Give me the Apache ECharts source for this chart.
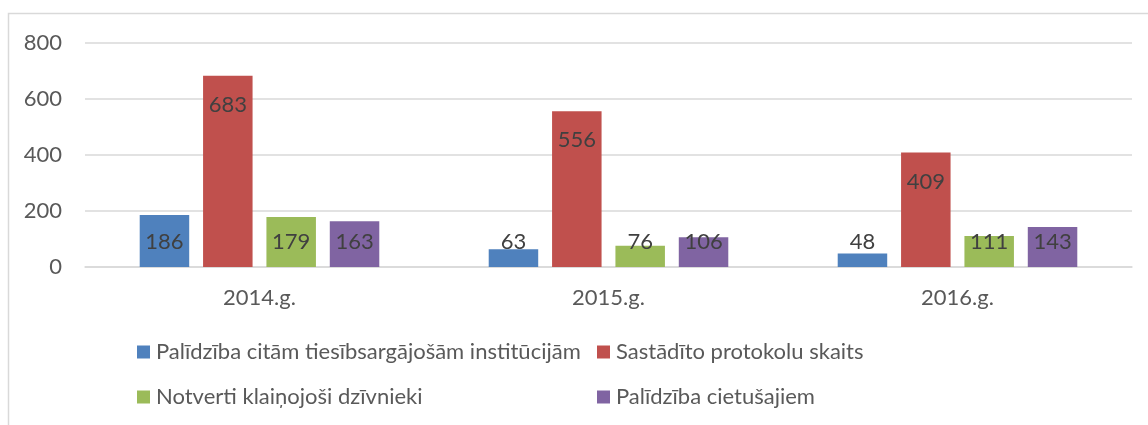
<!DOCTYPE html>
<html>
<head>
<meta charset="utf-8">
<script src="https://cdn.jsdelivr.net/npm/echarts@6/dist/echarts.min.js"></script>
<style>
html,body{margin:0;padding:0;background:#fff;}
#chart{width:1148px;height:425px;}
</style>
</head>
<body>
<div id="chart"></div>
<script>
const categories = ['2014.g.', '2015.g.', '2016.g.'];
const seriesNames = [
  'Palīdzība citām tiesībsargājošām institūcijām',
  'Sastādīto protokolu skaits',
  'Notverti klaiņojoši dzīvnieki',
  'Palīdzība cietušajiem'
];
const helpInstitutions = [186, 63, 48];
const protocols = [683, 556, 409];
const strayAnimals = [179, 76, 111];
const helpVictims = [163, 106, 143];
const yTicks = [0, 200, 400, 600, 800];

const colors = ['#4f81bd', '#c0504d', '#9bbb59', '#8064a2'];
const FONT = 'Lato';
const FS = 22;

function makeData(arr) {
  return arr.map(v => {
    const tall = v >= 188;
    return {
      value: v,
      label: tall
        ? { position: 'insideTop', distance: 18 }
        : { position: 'insideBottom', distance: 14 }
    };
  });
}

const allSeries = [helpInstitutions, protocols, strayAnimals, helpVictims].map((arr, i) => ({
  name: seriesNames[i],
  type: 'bar',
  barWidth: 49.5,
  barGap: '28%',
  itemStyle: { color: colors[i] },
  label: {
    show: true,
    color: '#404040',
    fontFamily: FONT,
    fontSize: FS
  },
  data: makeData(arr)
}));

const chart = echarts.init(document.getElementById('chart'), null, { renderer: 'canvas' });
chart.setOption({
  animation: false,
  backgroundColor: '#fff',
  textStyle: { fontFamily: FONT },
  graphic: [{
    type: 'rect',
    shape: { x: 8.5, y: 13.5, width: 1300, height: 600 },
    style: { fill: 'none', stroke: '#d9d9d9', lineWidth: 1.5 },
    silent: true
  }],
  grid: { left: 85, right: 16, top: 43, height: 224, containLabel: false },
  xAxis: {
    type: 'category',
    data: categories,
    axisLine: { show: true, lineStyle: { color: '#d9d9d9', width: 1.5 } },
    axisTick: { show: false },
    axisLabel: { color: '#595959', fontFamily: FONT, fontSize: FS, margin: 20 }
  },
  yAxis: {
    type: 'value',
    min: yTicks[0],
    max: yTicks[yTicks.length - 1],
    interval: yTicks[1] - yTicks[0],
    axisLine: { show: false },
    axisTick: { show: false },
    splitLine: { lineStyle: { color: '#d9d9d9', width: 1.5 } },
    axisLabel: { color: '#595959', fontFamily: FONT, fontSize: FS, margin: 23 }
  },
  legend: [{
    orient: 'vertical',
    left: 132,
    top: 336,
    itemWidth: 13,
    itemHeight: 13,
    itemGap: 23,
    icon: 'rect',
    data: [seriesNames[0], seriesNames[2]],
    textStyle: { color: '#595959', fontFamily: FONT, fontSize: FS, padding: [0, 0, 0, 1] }
  }, {
    orient: 'vertical',
    left: 592,
    top: 336,
    itemWidth: 13,
    itemHeight: 13,
    itemGap: 23,
    icon: 'rect',
    data: [seriesNames[1], seriesNames[3]],
    textStyle: { color: '#595959', fontFamily: FONT, fontSize: FS, padding: [0, 0, 0, 1] }
  }],
  series: allSeries
});
</script>
</body>
</html>
